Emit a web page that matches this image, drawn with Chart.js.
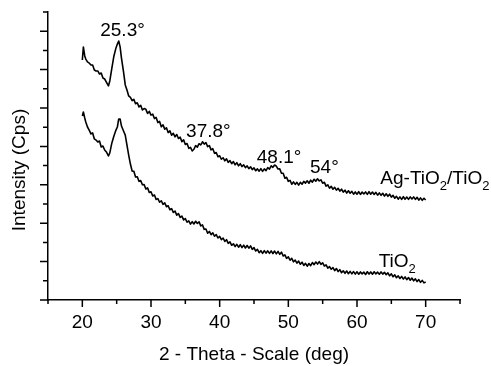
<!DOCTYPE html>
<html lang="en">

<head>
  <meta charset="UTF-8">
  <title>XRD pattern</title>
  <script src="https://cdn.jsdelivr.net/npm/chart.js@4.4.1/dist/chart.umd.min.js"></script>
  <style>
    html, body { margin: 0; padding: 0; background: #fff; }
    #xrdChart { display: block; }
  </style>
</head>

<body>
  <canvas id="xrdChart" width="491" height="366"></canvas>
  <script>
    // 2-theta positions (deg), shared by both patterns
    const theta = [
      20, 20.15, 20.35, 20.5, 20.75, 21, 21.25, 21.5, 21.75, 22, 22.25, 22.5, 22.75, 23, 23.25,
      23.5, 23.8, 24, 24.3, 24.6, 24.9, 25.1, 25.3, 25.5, 25.7, 26, 26.25, 26.5, 26.75,
      27, 27.25, 27.5, 27.75,  28, 28.25, 28.5, 28.75,  29, 29.25, 29.5, 29.75,
      30, 30.25, 30.5, 30.75,  31, 31.25, 31.5, 31.75,  32, 32.25, 32.5, 32.75,
      33, 33.25, 33.5, 33.75,  34, 34.25, 34.5, 34.75,  35, 35.25, 35.5, 35.75,
      36, 36.25, 36.5, 36.75,  37, 37.25, 37.5, 37.75,  38, 38.25, 38.5, 38.75,
      39, 39.25, 39.5, 39.75,  40, 40.25, 40.5, 40.75,  41, 41.25, 41.5, 41.75,
      42, 42.25, 42.5, 42.75,  43, 43.25, 43.5, 43.75,  44, 44.25, 44.5, 44.75,
      45, 45.25, 45.5, 45.75,  46, 46.25, 46.5, 46.75,  47, 47.25, 47.5, 47.75,
      48, 48.25, 48.5, 48.75,  49, 49.25, 49.5, 49.75,  50, 50.25, 50.5, 50.75,
      51, 51.25, 51.5, 51.75,  52, 52.25, 52.5, 52.75,  53, 53.25, 53.5, 53.75,
      54, 54.25, 54.5, 54.75,  55, 55.25, 55.5, 55.75,  56, 56.25, 56.5, 56.75,
      57, 57.25, 57.5, 57.75,  58, 58.25, 58.5, 58.75,  59, 59.25, 59.5, 59.75,
      60, 60.25, 60.5, 60.75,  61, 61.25, 61.5, 61.75,  62, 62.25, 62.5, 62.75,
      63, 63.25, 63.5, 63.75,  64, 64.25, 64.5, 64.75,  65, 65.25, 65.5, 65.75,
      66, 66.25, 66.5, 66.75,  67, 67.25, 67.5, 67.75,  68, 68.25, 68.5, 68.75,
      69, 69.25, 69.5, 69.75,  70
    ];

    // intensity, arbitrary units (Ag-TiO2/TiO2)
    const agTiO2 = [
      12.50, 13.18, 12.71, 12.55, 12.40, 12.34, 12.24, 12.24, 11.98, 11.93, 11.93, 11.77, 11.82, 11.56, 11.51,
      11.35, 11.15, 11.41, 12.08, 12.71, 13.13, 13.33, 13.49, 13.18, 12.60, 11.88, 11.20, 10.94, 10.63,
      10.55, 10.38, 10.45, 10.22,  10.27, 10.05, 10.14, 9.90,  9.97, 9.93, 9.72, 9.82,
      9.63, 9.68, 9.45, 9.51,  9.24, 9.30, 9.02, 9.12,  8.90, 8.97, 8.72, 8.81,
      8.58, 8.68, 8.50, 8.62,  8.41, 8.48, 8.25, 8.34,  8.10, 8.15, 7.90, 7.95,
      7.76, 7.85, 8.04, 7.96,  8.14, 8.08, 8.24, 8.12,  8.20, 7.99, 8.04, 7.82,
      7.88, 7.64, 7.68, 7.46,  7.51, 7.33, 7.41, 7.25,  7.35, 7.17, 7.26, 7.10,
      7.21, 7.04, 7.15, 6.99,  7.10, 6.95, 7.04, 6.89,  6.99, 6.84, 6.94, 6.79,
      6.88, 6.73, 6.83, 6.71,  6.84, 6.70, 6.83, 6.74,  6.89, 6.82, 6.99, 6.91,
      7.03, 6.97, 6.82, 6.83,  6.60, 6.60, 6.34, 6.39,  6.18, 6.23, 6.03, 6.15,
      6.02, 6.13, 5.98, 6.13,  6.03, 6.18, 6.09, 6.21,  6.08, 6.24, 6.14, 6.29,
      6.19, 6.31, 6.20, 6.26,  6.08, 6.13, 5.93, 6.00,  5.82, 5.92, 5.77, 5.87,
      5.72, 5.82, 5.67, 5.77,  5.62, 5.72, 5.57, 5.69,  5.56, 5.66, 5.51, 5.63,
      5.51, 5.64, 5.50, 5.62,  5.52, 5.63, 5.50, 5.64,  5.51, 5.62, 5.50, 5.61,
      5.46, 5.58, 5.45, 5.56,  5.41, 5.53, 5.40, 5.51,  5.36, 5.45, 5.30, 5.40,
      5.25, 5.37, 5.24, 5.38,  5.25, 5.36, 5.24, 5.37,  5.26, 5.37, 5.24, 5.35,
      5.20, 5.32, 5.19, 5.30,  5.21
    ];

    // intensity, arbitrary units (TiO2)
    const tiO2 = [
      9.58, 9.79, 9.48, 9.27, 9.01, 8.85, 8.65, 8.70, 8.39, 8.33, 8.23, 8.28, 7.97, 8.02, 7.81,
      7.71, 7.50, 7.66, 8.18, 8.54, 8.85, 9.01, 9.43, 9.43, 9.06, 8.80, 8.59, 8.07, 7.55,
      7.08, 6.72, 6.70, 6.41,  6.42, 6.18, 6.22, 6.00,  6.01, 5.78, 5.84, 5.60,
      5.64, 5.42, 5.47, 5.24,  5.28, 5.09, 5.17, 4.98,  5.06, 4.86, 4.91, 4.70,
      4.76, 4.56, 4.63, 4.42,  4.50, 4.30, 4.37, 4.17,  4.24, 4.05, 4.12, 3.95,
      4.08, 3.96, 4.10, 3.99,  4.07, 3.86, 3.91, 3.68,  3.70, 3.48, 3.57, 3.40,
      3.50, 3.32, 3.41, 3.23,  3.31, 3.14, 3.23, 3.05,  3.14, 2.95, 3.03, 2.85,
      2.93, 2.78, 2.90, 2.75,  2.88, 2.73, 2.86, 2.71,  2.84, 2.70, 2.82, 2.64,
      2.73, 2.55, 2.64, 2.46,  2.57, 2.43, 2.57, 2.44,  2.56, 2.43, 2.56, 2.42,
      2.55, 2.40, 2.53, 2.38,  2.49, 2.29, 2.35, 2.16,  2.25, 2.07, 2.17, 1.99,
      2.08, 1.92, 2.03, 1.86,  1.97, 1.80, 1.91, 1.76,  1.90, 1.79, 1.95, 1.84,
      1.98, 1.87, 2.00, 1.86,  1.94, 1.77, 1.83, 1.66,  1.74, 1.60, 1.69, 1.53,
      1.64, 1.48, 1.58, 1.42,  1.52, 1.39, 1.51, 1.37,  1.49, 1.36, 1.48, 1.35,
      1.47, 1.34, 1.46, 1.36,  1.45, 1.33, 1.47, 1.35,  1.46, 1.34, 1.47, 1.36,
      1.45, 1.34, 1.46, 1.35,  1.44, 1.32, 1.41, 1.26,  1.36, 1.21, 1.31, 1.16,
      1.26, 1.12, 1.23, 1.09,  1.20, 1.06, 1.17, 1.03,  1.14, 1.00, 1.10, 0.96,
      1.06, 0.92, 1.02, 0.89,  0.94
    ];

    const xTickValues = [15, 20, 25, 30, 35, 40, 45, 50, 55, 60, 65, 70, 75];
    const xTickLabels = [20, 30, 40, 50, 60, 70];
    const yTickValues = [0, 1, 2, 3, 4, 5, 6, 7, 8, 9, 10, 11, 12, 13, 14, 15];

    // peak annotations: text, 2-theta, intensity of the text baseline
    const peakLabels = ['25.3', '37.8', '48.1', '54'];
    const peakTheta = [25.3, 37.8, 48.1, 54.7];
    const peakLabelY = [13.75, 8.49, 7.14, 6.61];

    // series names (alternating normal / subscript pieces)
    const seriesNames = [['Ag-TiO', '2', '/TiO', '2'], ['TiO', '2']];
    const seriesLabelTheta = [63.4, 63.15];
    const seriesLabelY = [6.04, 1.72];

    const FONT = '"Liberation Sans", Arial, Helvetica, sans-serif';

    const decorPlugin = {
      id: 'xrdDecor',
      afterDraw(chart) {
        const { ctx, chartArea, scales: { x, y } } = chart;
        ctx.save();

        // tick marks, long on labelled values, short in between
        ctx.strokeStyle = '#000';
        ctx.lineWidth = 1.5;
        ctx.beginPath();
        x.ticks.forEach(t => {
          const px = x.getPixelForValue(t.value);
          const len = xTickLabels.includes(t.value) ? 7 : 4;
          ctx.moveTo(px, chartArea.bottom);
          ctx.lineTo(px, chartArea.bottom + len);
        });
        y.ticks.forEach(t => {
          const py = y.getPixelForValue(t.value);
          const len = t.value % 2 === 0 ? 8 : 5;
          ctx.moveTo(chartArea.left - len, py);
          ctx.lineTo(chartArea.left, py);
        });
        ctx.stroke();

        ctx.fillStyle = '#000';
        ctx.font = '19px ' + FONT;

        // peak labels
        ctx.textAlign = 'left';
        ctx.textBaseline = 'alphabetic';
        peakLabels.forEach((txt, i) => {
          const px = x.getPixelForValue(peakTheta[i]);
          const py = y.getPixelForValue(peakLabelY[i]);
          const w = ctx.measureText(txt).width;
          ctx.fillText(txt + '°', px - w / 2, py);
        });

        // series names with subscripts
        seriesNames.forEach((parts, i) => {
          let px = x.getPixelForValue(seriesLabelTheta[i]);
          const py = y.getPixelForValue(seriesLabelY[i]);
          parts.forEach((p, k) => {
            const sub = k % 2 === 1;
            ctx.font = (sub ? '13px ' : '19px ') + FONT;
            ctx.fillText(p, px, sub ? py + 6 : py);
            px += ctx.measureText(p).width;
          });
        });

        // y axis title
        ctx.font = '19px ' + FONT;
        ctx.translate(20, (chartArea.top + chartArea.bottom) / 2 + 14);
        ctx.rotate(-Math.PI / 2);
        ctx.textAlign = 'center';
        ctx.textBaseline = 'middle';
        ctx.fillText('Intensity (Cps)', 0, 0);

        ctx.restore();
      }
    };

    const lineStyle = {
      borderColor: '#000',
      borderWidth: 1.6,
      borderJoinStyle: 'round',
      pointRadius: 0,
      tension: 0
    };

    const ctx = document.getElementById('xrdChart').getContext('2d');
    new Chart(ctx, {
      type: 'line',
      data: {
        datasets: [
          Object.assign({ label: 'Ag-TiO2/TiO2', data: theta.map((t, i) => ({ x: t, y: agTiO2[i] })) }, lineStyle),
          Object.assign({ label: 'TiO2', data: theta.map((t, i) => ({ x: t, y: tiO2[i] })) }, lineStyle)
        ]
      },
      options: {
        responsive: false,
        animation: false,
        devicePixelRatio: 1,
        layout: { padding: { top: 12, right: 31, left: 0, bottom: 0 } },
        plugins: {
          legend: { display: false },
          tooltip: { enabled: false }
        },
        scales: {
          x: {
            type: 'linear',
            min: 15,
            max: 75,
            afterBuildTicks: s => { s.ticks = xTickValues.map(v => ({ value: v })); },
            afterFit: s => { s.height = 66; },
            ticks: {
              autoSkip: false,
              maxRotation: 0,
              padding: 11,
              color: '#000',
              font: { family: FONT, size: 19 },
              callback: v => xTickLabels.includes(v) ? String(v) : ''
            },
            grid: { display: false, drawTicks: false },
            border: { display: true, color: '#000', width: 1.5 },
            title: {
              display: true,
              text: '2 - Theta - Scale (deg)',
              color: '#000',
              font: { family: FONT, size: 19 },
              padding: { top: 0, bottom: 0 }
            }
          },
          y: {
            type: 'linear',
            min: 0,
            max: 15,
            afterBuildTicks: s => { s.ticks = yTickValues.map(v => ({ value: v })); },
            afterFit: s => { s.width = 48; },
            ticks: { display: false },
            grid: { display: false, drawTicks: false },
            border: { display: true, color: '#000', width: 1.5 }
          }
        }
      },
      plugins: [decorPlugin]
    });
  </script>
</body>

</html>
